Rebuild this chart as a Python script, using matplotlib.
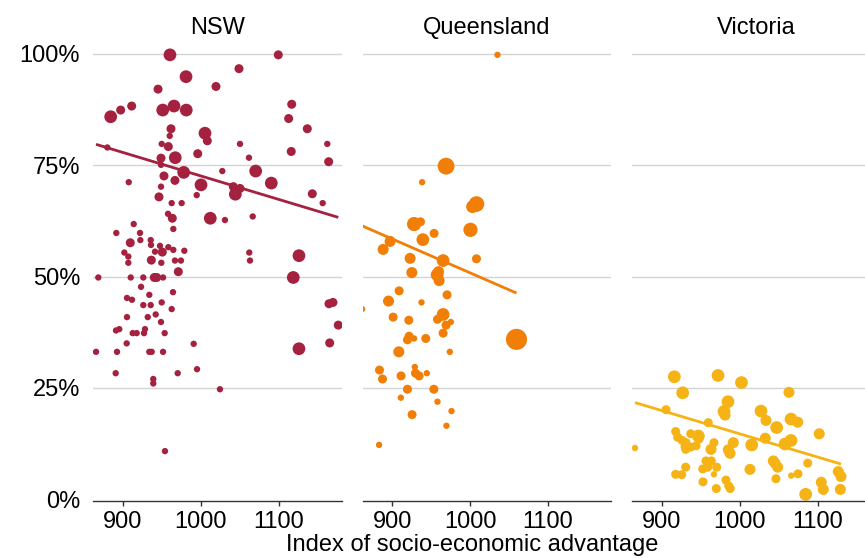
import numpy as np
import matplotlib.pyplot as plt

plt.rcParams["font.family"] = ["Liberation Sans", "DejaVu Sans"]
plt.rcParams["font.size"] = 17

states = ["NSW", "Queensland", "Victoria"]
colours = ["#A4213F", "#F07E07", "#F5B315"]
x_ticks = [900, 1000, 1100]
y_ticks = [0, 25, 50, 75, 100]
y_labels = ["0%", "25%", "50%", "75%", "100%"]

# NSW schools: advantage index, share (%), relative weight
nsw_x = [960.6, 981.2, 945.3, 1019.6, 911.5, 897.4, 884.6, 951.3, 965.8, 981.5,
         961.9, 960.3, 1005.5, 1008.5, 880.3, 950.0, 958.5, 996.2, 949.1, 967.4,
         949.1, 978.2, 952.9, 967.0, 907.7, 1000.4, 949.1, 946.5, 994.9, 962.8,
         975.6, 958.1, 963.6, 1012.3, 914.1, 964.9, 891.8, 922.2, 909.7, 922.6,
         935.9, 936.3, 902.1, 907.2, 907.2, 941.4, 947.8, 950.8, 958.5, 964.9,
         979.0, 936.7, 949.5, 967.0, 974.7, 971.3, 868.7, 910.3, 926.4, 940.5,
         943.6, 951.7, 923.5, 934.1, 964.5, 905.5, 911.9, 926.4, 935.9, 950.0,
         962.8, 905.5, 932.1, 942.3, 949.1, 891.4, 895.6, 912.8, 917.9, 927.3,
         928.6, 953.8, 905.1, 991.0, 865.8, 892.7, 934.1, 937.2, 951.7, 891.0,
         970.5, 995.3, 939.2, 939.2, 954.2, 1024.7, 1099.5, 1049.1, 1116.7, 1112.8,
         1136.7, 1050.4, 1116.1, 1162.3, 1164.1, 1061.9, 1027.7, 1070.5, 1090.5, 1041.8,
         1050.4, 1044.4, 1143.1, 1156.4, 1031.1, 1066.7, 1062.3, 1063.2, 1126.0, 1118.7,
         1164.5, 1169.6, 1176.4, 1165.4, 1126.0]
nsw_y = [99.8, 94.9, 92.1, 92.7, 88.3, 87.4, 85.9, 87.4, 88.3, 87.4,
         83.2, 81.6, 82.2, 80.5, 79.0, 79.8, 79.2, 77.6, 76.6, 76.7,
         75.1, 73.4, 72.6, 71.6, 71.2, 70.6, 70.2, 67.9, 68.3, 66.5,
         66.5, 64.1, 63.1, 63.1, 61.8, 60.7, 59.8, 59.8, 57.6, 58.2,
         58.2, 57.1, 55.4, 54.5, 53.1, 55.6, 56.9, 55.5, 56.6, 56.0,
         55.8, 53.7, 53.1, 53.6, 53.6, 51.1, 49.8, 49.8, 49.8, 49.8,
         49.8, 49.8, 47.7, 45.9, 46.5, 45.2, 44.8, 43.6, 43.6, 44.2,
         42.7, 40.9, 40.9, 41.5, 39.8, 37.9, 38.2, 37.3, 37.3, 37.3,
         38.2, 37.3, 35.0, 34.9, 33.1, 33.1, 33.1, 33.1, 33.1, 28.3,
         28.3, 29.2, 27.0, 26.0, 10.8, 24.7, 99.8, 96.7, 88.7, 85.5,
         83.2, 79.8, 78.1, 79.8, 75.8, 76.7, 73.7, 73.7, 71.0, 70.2,
         69.8, 68.5, 68.6, 66.5, 62.7, 63.5, 55.4, 53.6, 54.7, 49.8,
         43.9, 44.2, 39.1, 35.1, 33.8]
nsw_w = [4, 4, 2, 2, 2, 2, 4, 4, 4, 4,
         2, 1, 4, 2, 1, 1, 2, 2, 2, 4,
         1, 4, 2, 2, 1, 4, 1, 2, 1, 1,
         1, 1, 2, 4, 1, 1, 1, 1, 2, 1,
         1, 1, 1, 1, 1, 1, 1, 2, 1, 1,
         1, 2, 1, 1, 1, 2, 1, 1, 1, 2,
         2, 1, 1, 1, 1, 1, 1, 1, 1, 1,
         1, 1, 1, 1, 1, 1, 1, 1, 1, 1,
         1, 1, 1, 1, 1, 1, 1, 1, 1, 1,
         1, 1, 1, 1, 1, 1, 2, 2, 2, 2,
         2, 1, 2, 1, 2, 1, 1, 4, 4, 2,
         2, 4, 2, 1, 1, 1, 1, 1, 4, 4,
         2, 2, 2, 2, 4]

qld_x = [1035.1, 969.2, 938.5, 1008.2, 1003.1, 928.2, 936.4, 953.8, 939.4, 1000.5,
         897.4, 888.5, 923.1, 965.4, 1008.2, 925.3, 957.7, 959.5, 960.3, 909.0,
         970.5, 895.4, 937.7, 861.5, 901.3, 921.4, 965.4, 958.2, 975.3, 969.2,
         965.4, 921.8, 919.7, 928.2, 943.2, 1059.5, 908.6, 974.0, 883.8, 887.7,
         929.1, 911.5, 930.0, 934.6, 944.5, 919.7, 953.5, 911.2, 958.2, 925.6,
         976.2, 969.7, 883.3]
qld_y = [99.8, 74.8, 71.2, 66.3, 65.7, 61.8, 62.3, 59.7, 58.3, 60.5,
         57.9, 56.1, 54.1, 53.6, 54.0, 50.9, 50.4, 51.1, 49.1, 46.8,
         45.9, 44.5, 44.2, 42.7, 40.9, 40.2, 41.5, 40.4, 39.8, 39.1,
         37.3, 36.6, 35.8, 36.1, 36.1, 35.9, 33.1, 33.1, 29.0, 27.0,
         29.7, 27.7, 28.3, 27.7, 28.3, 24.7, 24.7, 22.8, 21.9, 19.0,
         19.8, 16.5, 12.2]
qld_w = [1, 7, 1, 6, 4, 5, 2, 2, 4, 5,
         3, 3, 3, 4, 2, 3, 4, 3, 3, 2,
         2, 3, 1, 1, 2, 2, 4, 2, 1, 2,
         2, 2, 2, 1, 2, 11, 3, 1, 2, 2,
         1, 2, 2, 2, 1, 2, 2, 1, 1, 2,
         1, 1, 1]

vic_x = [916.2, 972.2, 1002.3, 926.9, 985.0, 979.9, 981.2, 905.5, 959.7, 917.9,
         937.2, 946.9, 920.5, 926.4, 931.2, 947.8, 967.0, 991.8, 865.8, 929.9,
         937.2, 944.0, 930.8, 963.2, 985.4, 987.6, 956.8, 963.6, 930.8, 952.6,
         959.0, 970.5, 967.0, 917.9, 925.6, 952.9, 970.0, 982.4, 985.9, 987.9,
         1063.2, 1027.3, 1033.7, 1047.4, 1065.8, 1074.4, 1102.0, 1032.8, 1015.4, 1058.1,
         1065.8, 1043.1, 1048.7, 1045.2, 1013.2, 1087.2, 1046.5, 1066.1, 1074.7, 1126.4,
         1129.9, 1104.6, 1107.2, 1084.6, 1129.0]
vic_y = [27.5, 27.8, 26.2, 23.9, 21.9, 19.7, 18.9, 20.1, 17.2, 15.2,
         14.7, 14.2, 13.9, 13.2, 12.7, 13.5, 12.7, 12.7, 11.5, 11.8,
         11.7, 12.0, 11.2, 11.2, 11.1, 10.3, 8.6, 8.6, 7.2, 6.8,
         7.2, 7.2, 5.6, 5.6, 5.5, 3.9, 2.4, 4.3, 3.0, 2.4,
         24.0, 19.8, 17.7, 16.1, 18.0, 17.3, 14.7, 13.7, 12.2, 12.4,
         13.2, 8.6, 7.2, 8.1, 6.7, 8.1, 4.6, 5.3, 5.7, 6.2,
         5.1, 3.8, 2.2, 1.1, 2.2]
vic_w = [4, 4, 4, 4, 4, 4, 3, 2, 2, 2,
         2, 4, 2, 2, 2, 2, 2, 3, 1, 2,
         2, 2, 2, 3, 3, 3, 2, 2, 2, 2,
         2, 2, 1, 2, 2, 2, 2, 2, 2, 2,
         3, 4, 3, 4, 4, 3, 3, 3, 4, 4,
         4, 3, 3, 3, 3, 2, 2, 1, 2, 3,
         3, 3, 3, 4, 3]

# fitted line, value at the lowest and highest index in each state
nsw_trend = [79.7, 63.3]
qld_trend = [61.4, 46.3]
vic_trend = [21.7, 7.9]

panels = [
    (nsw_x, nsw_y, nsw_w, nsw_trend),
    (qld_x, qld_y, qld_w, qld_trend),
    (vic_x, vic_y, vic_w, vic_trend),
]

W, H = 865, 558
fig = plt.figure(figsize=(W / 100, H / 100), dpi=100)

lefts = [93.3, 362.7, 632.3]
panel_w = 248.4
bottom_px = 501
top_px = 40.6

for i, (name, colour, (xs, ys, ws, trend)) in enumerate(zip(states, colours, panels)):
    ax = fig.add_axes([lefts[i] / W, 1 - bottom_px / H,
                       panel_w / W, (bottom_px - top_px) / H])
    xs = np.array(xs)
    ys = np.array(ys)
    ws = np.array(ws)

    for g in y_ticks[1:]:
        ax.axhline(g, color="#D4D4D4", lw=1, zorder=0)

    ax.scatter(xs, ys, s=21 * ws, color=colour, linewidths=0, zorder=2)
    ax.plot([xs.min(), xs.max()], trend, color=colour, lw=2,
            solid_capstyle="butt", zorder=3)

    ax.set_xlim(862.3, 1180.8)
    ax.set_ylim(-0.4, 103)
    ax.set_xticks(x_ticks)
    ax.set_yticks(y_ticks)
    if i == 0:
        ax.set_yticklabels(y_labels)
    else:
        ax.set_yticklabels([])

    for side in ["top", "right", "left"]:
        ax.spines[side].set_visible(False)
    ax.spines["bottom"].set_color("#333333")
    ax.spines["bottom"].set_linewidth(1)
    ax.tick_params(axis="y", length=0, pad=9.5, labelsize=17)
    ax.tick_params(axis="x", length=3.6, width=1, color="#333333",
                   pad=3.5, labelsize=17)
    ax.set_title(name, fontsize=17, pad=5)

fig.text(472.5 / W, 1 - 545 / H, "Index of socio-economic advantage",
         ha="center", va="center", fontsize=17)

fig.savefig("out.png", dpi=100)
